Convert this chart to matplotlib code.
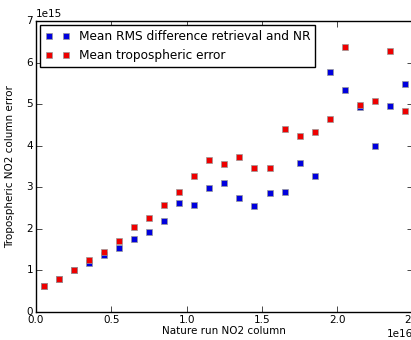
import matplotlib
matplotlib.use("Agg")
import matplotlib.pyplot as plt
import numpy as np

# Nature run NO2 column (bin centres)
nature_run = [0.05e16, 0.15e16, 0.25e16, 0.35e16, 0.45e16, 0.55e16, 0.65e16, 0.75e16,
              0.85e16, 0.95e16, 1.05e16, 1.15e16, 1.25e16, 1.35e16, 1.45e16, 1.55e16,
              1.65e16, 1.75e16, 1.85e16, 1.95e16, 2.05e16, 2.15e16, 2.25e16, 2.35e16,
              2.45e16]

# Mean RMS difference retrieval and NR (x 1e15)
rms_diff = [0.63, 0.79, 1.00, 1.19, 1.36, 1.53, 1.76, 1.92, 2.19, 2.61, 2.57, 2.99,
            3.10, 2.74, 2.54, 2.86, 2.89, 3.58, 3.27, 5.77, 5.34, 4.92, 3.99, 4.95, 5.48]

# Mean tropospheric error (x 1e15)
trop_err = [0.63, 0.79, 1.00, 1.26, 1.44, 1.71, 2.04, 2.25, 2.58, 2.89, 3.28, 3.66,
            3.56, 3.72, 3.47, 3.46, 4.40, 4.23, 4.33, 4.63, 6.37, 4.99, 5.07, 6.28, 4.84]

plt.style.use("classic")
plt.rcParams["figure.facecolor"] = "white"
plt.rcParams["savefig.facecolor"] = "white"
plt.rcParams["font.size"] = 7.5

fig = plt.figure(figsize=(4.11, 3.40), dpi=100)
ax = fig.add_axes([0.0876, 0.0824, 0.9165, 0.856])

ax.plot(nature_run, np.array(rms_diff) * 1e15, "s", color="#0000dd",
        markeredgecolor="0.6", markeredgewidth=0.5, markersize=5,
        label="Mean RMS difference retrieval and NR")
ax.plot(nature_run, np.array(trop_err) * 1e15, "s", color="#ee0000",
        markeredgecolor="0.6", markeredgewidth=0.5, markersize=5,
        label="Mean tropospheric error")

ax.set_xlim(0, 2.5e16)
ax.set_ylim(0, 7e15)
ax.set_xticks(np.arange(0, 2.51e16, 0.5e16))
ax.set_yticks(np.arange(0, 7.1e15, 1e15))
ax.tick_params(labelsize=7.5, pad=2)
ax.xaxis.get_offset_text().set_fontsize(7.5)
ax.yaxis.get_offset_text().set_fontsize(7.5)

ax.set_xlabel("Nature run NO2 column", fontsize=7.5, labelpad=1)
ax.set_ylabel("Tropospheric NO2 column error", fontsize=7.5, labelpad=8)

ax.legend(loc="upper left", numpoints=2, fontsize=8.7, frameon=True,
          borderaxespad=0.35, handletextpad=0.8)

fig.savefig("out.png", dpi=100, facecolor="white")
